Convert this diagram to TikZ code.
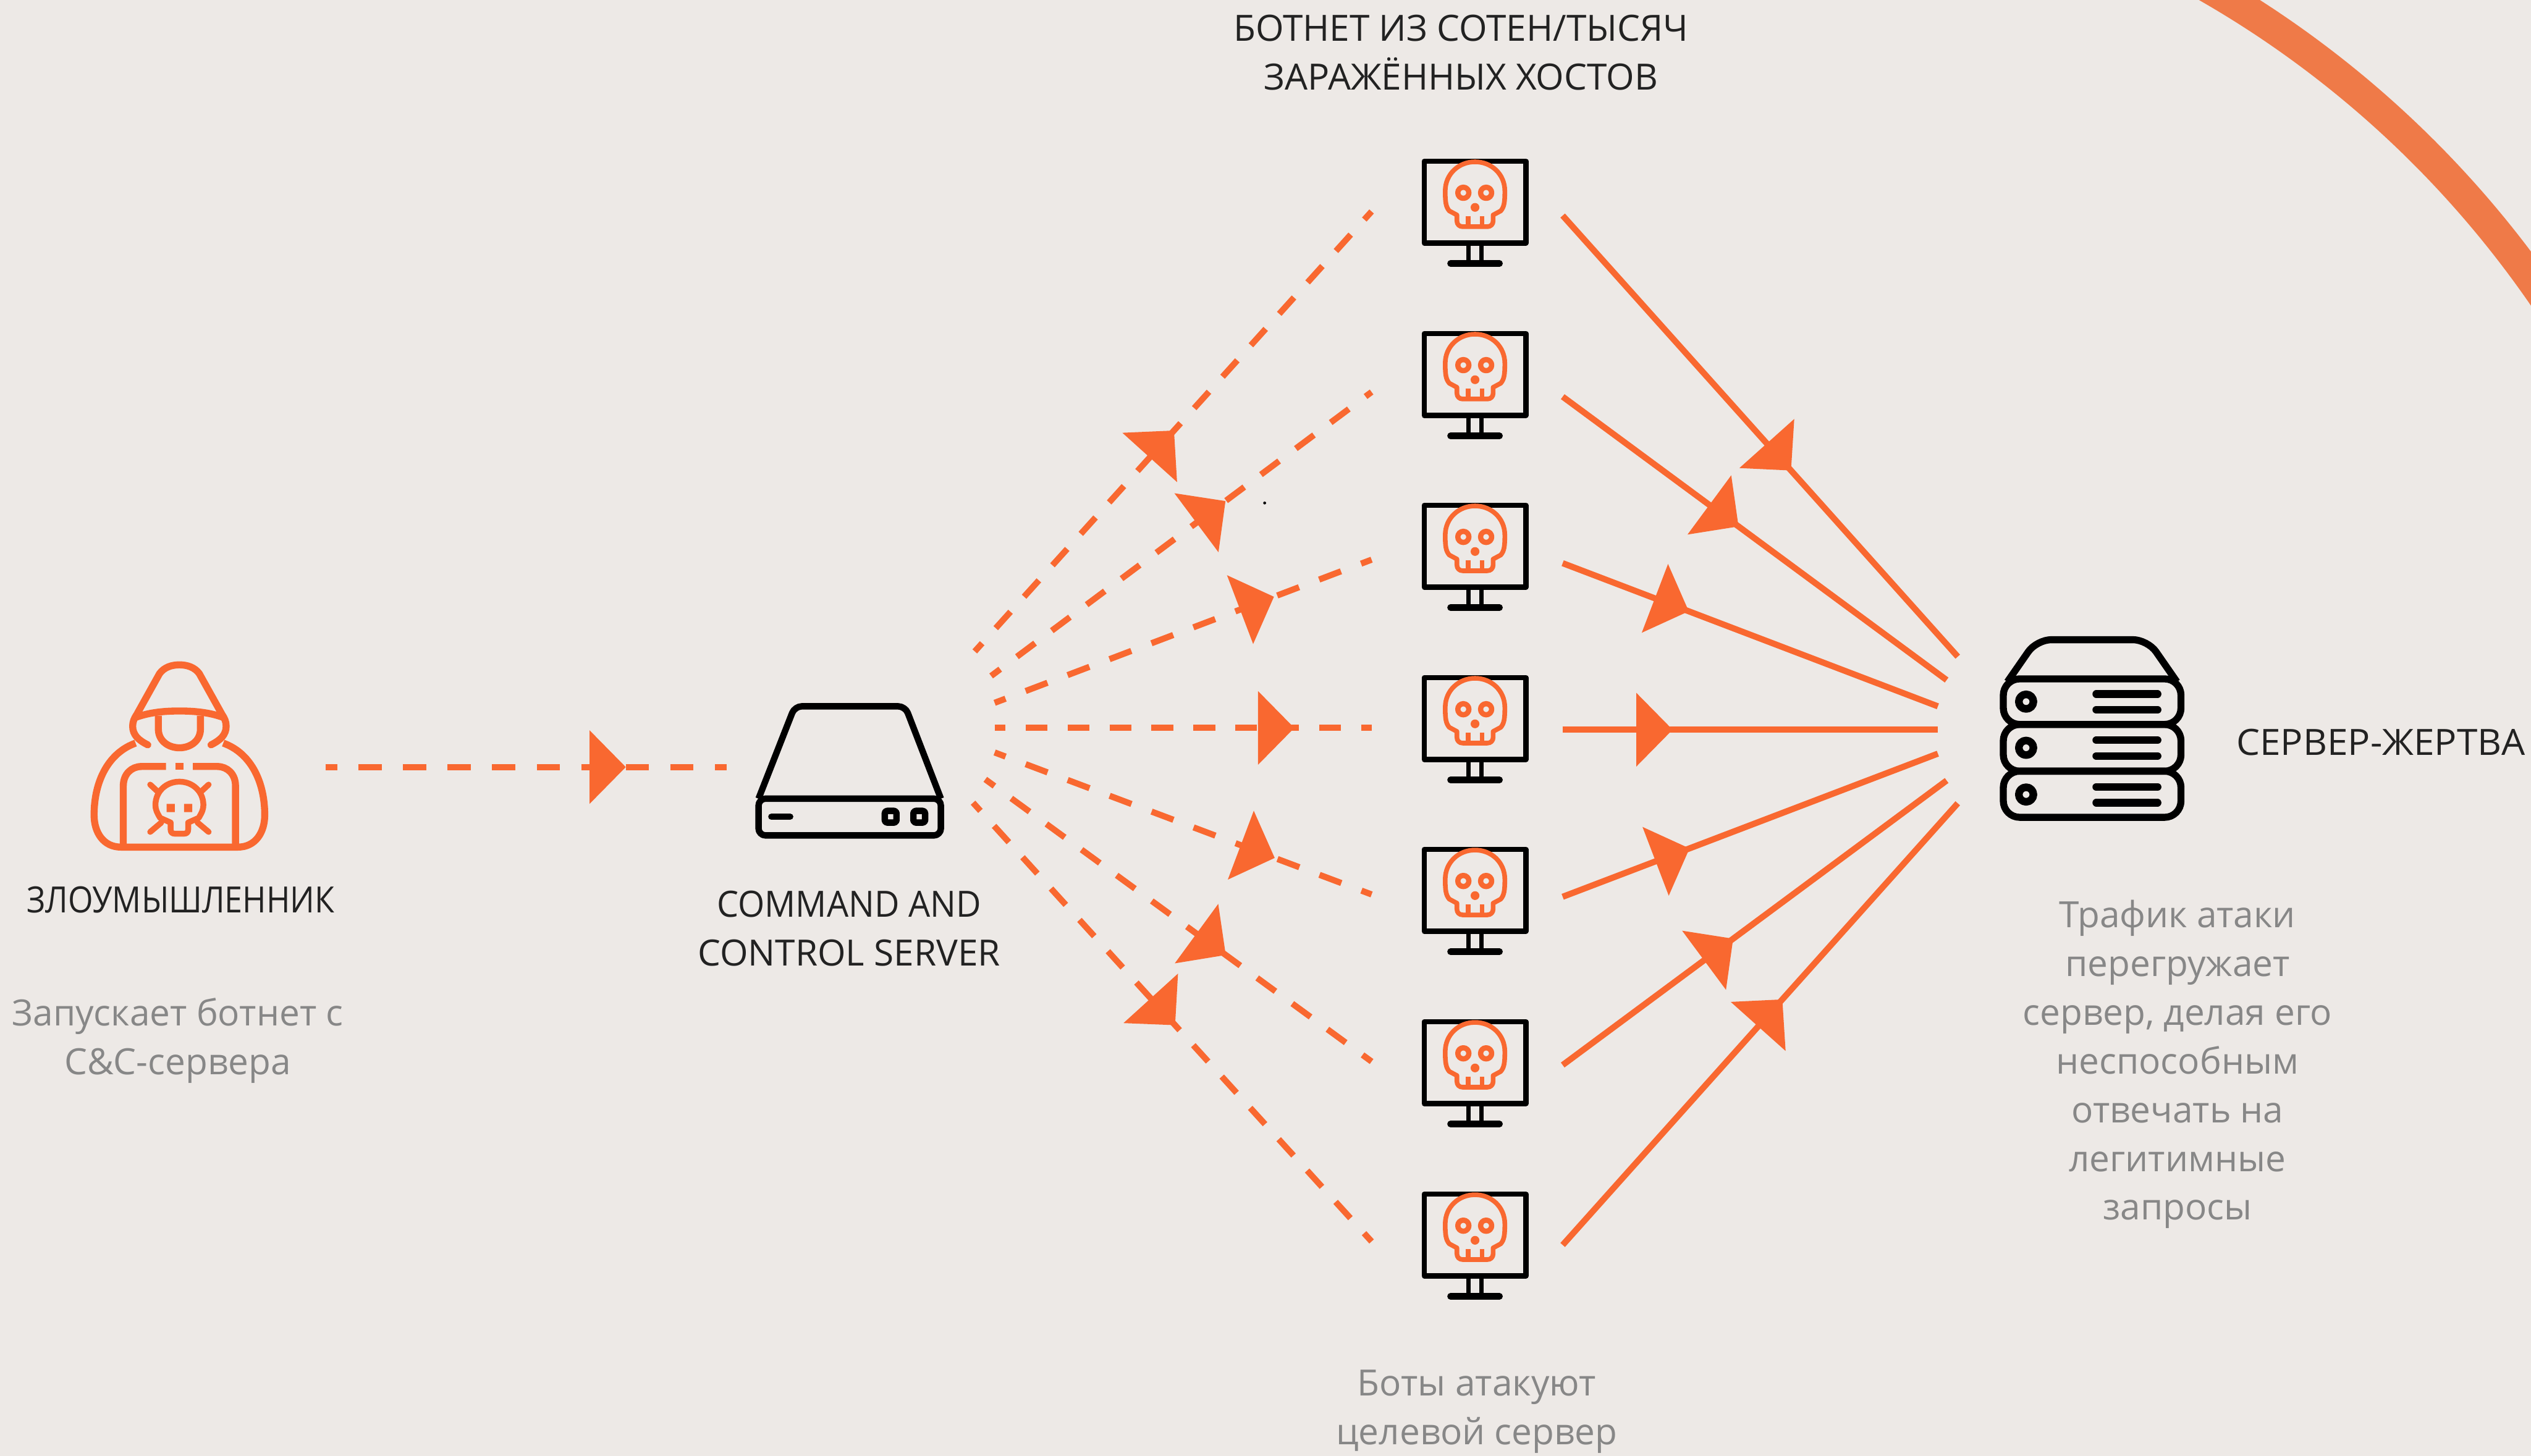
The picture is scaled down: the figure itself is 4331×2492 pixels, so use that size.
\documentclass[tikz,border=0pt]{standalone}
\usepackage{fontspec}
\setmainfont{Open Sans}
\usetikzlibrary{decorations.markings}
\definecolor{bgcol}{HTML}{EDE9E6}
\definecolor{orcol}{HTML}{F96830}
\definecolor{arccol}{HTML}{EF7A48}
\definecolor{darkcol}{HTML}{222222}
\definecolor{greycol}{HTML}{878787}
\tikzset{
	orline/.style={draw=orcol, line width=0.08cm, line join=round},
	blackline/.style={draw=black, line width=0.11cm, line join=round},
	solidlink/.style={draw=orcol, line width=0.105cm},
	dashlink/.style={draw=orcol, line width=0.105cm, dash pattern=on 0.52*#1cm off 0.48*#1cm, dash phase=0.26*#1cm},
	midhead/.style={postaction={decorate}, decoration={markings, mark=at position #1 with {\fill[orcol] (-62,-63) -- (0,0) -- (-62,63) -- cycle;}}},
	title/.style={text=darkcol, align=center, inner sep=0pt, font=\fontsize{17.6}{23.7}\selectfont},
	note/.style={text=greycol, align=center, inner sep=0pt, font=\fontsize{17.6}{23.7}\selectfont},
	botpc/.pic={
		\draw[blackline, line width=0.09cm] (-87,-70) rectangle (87,70);
		\draw[blackline, line width=0.08cm] (-11,70) -- (-11,105) (11,70) -- (11,105);
		\draw[blackline, line cap=round] (-42,105) -- (42,105);
		\draw[orline] (-44,15) .. controls (-50,8) and (-51,0) .. (-51,-19) .. controls (-51,-48) and (-28,-69) .. (0,-69) .. controls (28,-69) and (51,-48) .. (51,-19) .. controls (51,0) and (50,8) .. (44,15) -- (31,22) -- (31,32) .. controls (31,38) and (27,42) .. (21,42) -- (-21,42) .. controls (-27,42) and (-31,38) .. (-31,32) -- (-31,22) -- cycle;
		\draw[orline] (-12,24) -- (-12,42) (12,24) -- (12,42);
		\draw[orline, line width=0.09cm] (-20,-16) circle (9.5) (19,-16) circle (9.5);
		\fill[orcol] (0,9) circle (7.5);
	},
	candcpc/.pic={
		\draw[blackline, rounded corners=0.12cm] (-156,47) rectangle (156,110);
		\draw[blackline, rounded corners=0.12cm] (-156,47) -- (-94,-111) -- (95,-111) -- (156,47);
		\draw[blackline, line cap=round] (-134,78) -- (-102,78);
		\draw[blackline, rounded corners=0.04cm] (60,68) rectangle (80,88);
		\draw[blackline, rounded corners=0.04cm] (109,68) rectangle (129,88);
	},
	victimpc/.pic={
		\draw[blackline, line width=0.12cm, rounded corners=0.28cm] (-152,-85) rectangle (152,-7);
		\draw[blackline, line width=0.12cm, rounded corners=0.28cm] (-152,-7) rectangle (152,73);
		\draw[blackline, line width=0.12cm, rounded corners=0.28cm] (-152,73) rectangle (152,152);
		\draw[blackline, line width=0.12cm, rounded corners=0.25cm] (-145,-80) -- (-95,-152) -- (95,-152) -- (145,-80);
		\foreach \rowy in {-46,33,113} {
			\draw[blackline, line width=0.13cm] (-113,\rowy) circle (12.5);
			\draw[blackline, line width=0.13cm, line cap=round] (7,\rowy-13) -- (112,\rowy-13) (7,\rowy+14) -- (112,\rowy+14);
		}
	},
	attackerpc/.pic={
		\draw[orline, line width=0.12cm, line cap=round] (-54,-25) .. controls (-70,-33) and (-80,-42) .. (-80,-57) .. controls (-80,-65) and (-77,-71) .. (-73,-77) -- (-34,-147) .. controls (-26,-158) and (-13,-162) .. (0,-162) .. controls (13,-162) and (26,-158) .. (34,-147) -- (73,-77) .. controls (77,-71) and (80,-65) .. (80,-57) .. controls (80,-42) and (70,-33) .. (54,-25);
		\draw[orline, line width=0.12cm] (-75,-72) .. controls (-50,-81) and (-25,-83) .. (0,-83) .. controls (25,-83) and (50,-81) .. (75,-72);
		\draw[orline, line width=0.12cm] (-36,-75) -- (-36,-52) .. controls (-36,-32) and (-19,-20) .. (0,-20) .. controls (19,-20) and (36,-32) .. (36,-52) -- (36,-75);
		\draw[orline, line width=0.12cm] (-75,-28) .. controls (-120,-12) and (-146,35) .. (-146,95) .. controls (-146,125) and (-130,150) .. (-100,150) -- (100,150) .. controls (130,150) and (146,125) .. (146,95) .. controls (146,35) and (120,-12) .. (75,-28);
		\draw[orline, line width=0.12cm] (-96,150) -- (-96,45) .. controls (-96,25) and (-82,12) .. (-65,12) -- (-23,12);
		\draw[orline, line width=0.12cm] (96,150) -- (96,45) .. controls (96,25) and (82,12) .. (65,12) -- (23,12);
		\draw[orline, line width=0.12cm] (-7,12) -- (7,12);
		\draw[orline, line width=0.1cm] (-15,108) -- (-15,120) .. controls (-15,125) and (-12,127) .. (-8,127) -- (8,127) .. controls (12,127) and (15,125) .. (15,120) -- (15,108) -- (33,100) .. controls (39,90) and (41,85) .. (41,78) .. controls (41,55) and (23,38) .. (0,38) .. controls (-23,38) and (-41,55) .. (-41,78) .. controls (-41,85) and (-39,90) .. (-33,100) -- cycle;
		\draw[orline, line width=0.1cm, line cap=round] (-50,43) -- (-36,56) (50,43) -- (36,56) (-50,124) -- (-31,108) (50,124) -- (31,108);
		\fill[orcol] (-22,76) rectangle (-8,90) (8,76) rectangle (22,90);
	}
}

\begin{document}
\begin{tikzpicture}[x=0.01cm, y=-0.01cm]
	%%%%% START %%%%%
	\clip (0,0) rectangle (4331,2492);
	\fill[bgcol] (0,0) rectangle (4331,2492);
	
	\begin{scope}
		\clip (3650,0) rectangle (4331,650);
		\draw[arccol, line width=0.54cm] (2906,1501) circle (1755);
	\end{scope}
	
	\pic (attacker) at (307,1300) {attackerpc};
	\pic (candc) at (1454,1320) {candcpc};
	\pic (victim) at (3580,1247) {victimpc};
	\foreach \n/\boty in {1/346,2/641,3/935,4/1230,5/1524,6/1819,7/2114} {
		\pic (bot\n) at (2524,\boty) {botpc};
	}
	
	\coordinate (attackerout) at (557,1313);
	\coordinate (candcin) at (1243,1313);
	\draw[dashlink=0.762, midhead=0.749] (attackerout) -- (candcin);
	
	% command server to bots
	\foreach \n/\sx/\sy/\ey/\p/\per in {1/1668/1115/362/0.502/0.724,2/1696/1157/671/0.616/0.744,3/1702/1203/958/0.741/0.767,4/1702/1246/1246/0.795/0.717,5/1702/1288/1531/0.743/0.767,6/1686/1334/1817/0.6225/0.744,7/1665/1374/2125/0.507/0.724} {
		\coordinate (candcout\n) at (\sx,\sy);
		\coordinate (botin\n) at (2347,\ey);
		\draw[dashlink=\per, midhead=\p] (candcout\n) -- (botin\n);
	}
	
	% bots to victim
	\foreach \n/\sy/\ex/\ey/\p in {1/369/3350/1124/0.578,2/679/3331/1164/0.458,3/964/3316/1209/0.336,4/1249/3316/1249/0.293,5/1535/3316/1290/0.338,6/1823/3331/1336/0.444,7/2131/3350/1375/0.556} {
		\coordinate (botout\n) at (2674,\sy);
		\coordinate (victimin\n) at (\ex,\ey);
		\draw[solidlink, midhead=\p] (botout\n) -- (victimin\n);
	}
	
	\fill[black] (2164,861) circle (2.5);
	
	\node[title] (attackername) at (309,1540) {\addfontfeature{FakeStretch=0.89}ЗЛОУМЫШЛЕННИК};
	\node[note] (attackernote) at (304,1781) {Запускает ботнет с\\C\&C-сервера};
	\node[title] (candcname) at (1453,1589) {{\addfontfeature{FakeStretch=0.95}COMMAND AND}\\CONTROL SERVER};
	\node[title] (botnetname) at (2500,90) {БОТНЕТ ИЗ СОТЕН/ТЫСЯЧ\\ЗАРАЖЁННЫХ ХОСТОВ};
	\node[note] (botnote) at (2527,2416) {Боты атакуют\\целевой сервер};
	\node[title] (victimname) at (4074,1271) {\addfontfeature{FakeStretch=1.03}СЕРВЕР-ЖЕРТВА};
	\node[note] (victimnote) at (3726,1822) {Трафик атаки\\перегружает\\сервер, делая его\\неспособным\\отвечать на\\легитимные\\запросы};
	%%%%% END %%%%%
\end{tikzpicture}
\end{document}
